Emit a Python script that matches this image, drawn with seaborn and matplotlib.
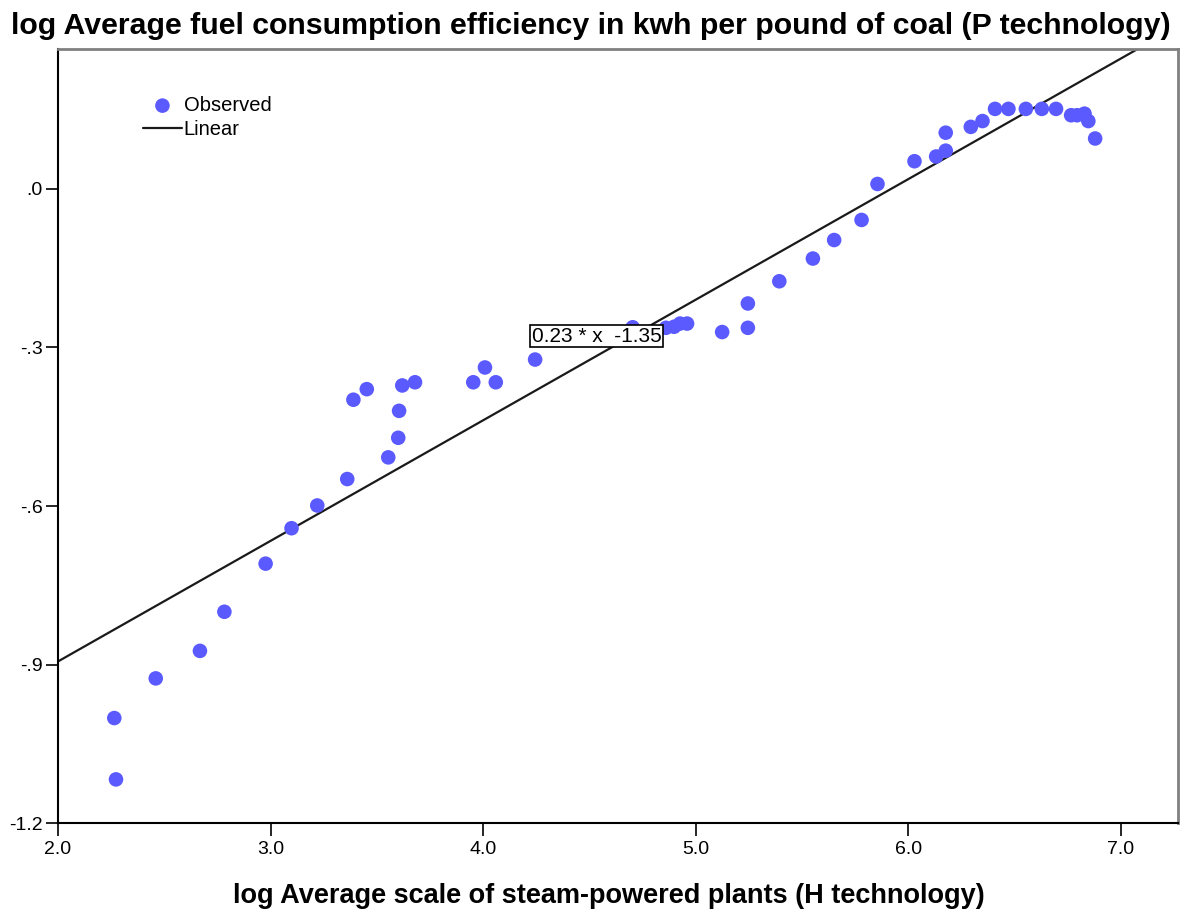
import numpy as np
import pandas as pd
import matplotlib
matplotlib.use('Agg')
import matplotlib.pyplot as plt
import seaborn as sns

sns.set_theme(style="white")
plt.rcParams['font.family'] = ['Liberation Sans', 'DejaVu Sans']
plt.rcParams['text.color'] = 'black'

# log scale of steam-powered plants (H technology)
log_scale = [2.265, 2.273, 2.460, 2.668, 2.783, 2.977, 3.099, 3.220, 3.361, 3.390,
             3.453, 3.554, 3.601, 3.605, 3.620, 3.680, 3.954, 4.009, 4.060, 4.245,
             4.704, 4.861, 4.899, 4.927, 4.960, 5.125, 5.246, 5.246, 5.394, 5.552,
             5.652, 5.781, 5.856, 6.030, 6.132, 6.177, 6.177, 6.295, 6.350, 6.409,
             6.472, 6.554, 6.629, 6.696, 6.767, 6.795, 6.830, 6.848, 6.880]
# log fuel efficiency, kwh per pound of coal (P technology)
log_eff = [-1.001, -1.117, -0.926, -0.874, -0.800, -0.709, -0.642, -0.599, -0.549, -0.399,
           -0.379, -0.508, -0.471, -0.420, -0.372, -0.366, -0.366, -0.338, -0.366, -0.323,
           -0.262, -0.263, -0.261, -0.255, -0.255, -0.271, -0.217, -0.263, -0.175, -0.132,
           -0.097, -0.059, 0.009, 0.052, 0.061, 0.072, 0.106, 0.117, 0.128, 0.151,
           0.151, 0.151, 0.151, 0.151, 0.139, 0.139, 0.142, 0.128, 0.095]

slope = 0.228
intercept = -1.35
fit_label = "0.23 * x  -1.35"

x_lim = (2.0, 7.27)
y_lim = (-1.2, 0.264)
x_ticks = [2.0, 3.0, 4.0, 5.0, 6.0, 7.0]
x_tick_labels = ["2.0", "3.0", "4.0", "5.0", "6.0", "7.0"]
y_ticks = [-1.2, -0.9, -0.6, -0.3, 0.0]
y_tick_labels = ["-1.2", "-.9", "-.6", "-.3", ".0"]

df = pd.DataFrame({'H': log_scale, 'P': log_eff})
fit_x = np.array(x_lim)
fit_df = pd.DataFrame({'H': fit_x, 'P': slope * fit_x + intercept})

fig = plt.figure(figsize=(11.83, 9.10), dpi=100)
ax = fig.add_axes([0.049, 0.0953, 0.9468, 0.8507])

sns.lineplot(data=fit_df, x='H', y='P', color='#1a1a1a', linewidth=1.6,
             label='Linear', ax=ax, zorder=2)
sns.scatterplot(data=df, x='H', y='P', color='#5a5aff', s=110, edgecolor='none',
                label='Observed', ax=ax, zorder=3)

ax.set_xlim(*x_lim)
ax.set_ylim(*y_lim)
ax.set_xticks(x_ticks)
ax.set_xticklabels(x_tick_labels)
ax.set_yticks(y_ticks)
ax.set_yticklabels(y_tick_labels)
ax.tick_params(axis='both', direction='out', length=9, width=1.2, color='black',
               labelsize=14, labelcolor='black', bottom=True, left=True)
ax.tick_params(axis='y', pad=2)

for side in ['left', 'bottom']:
    ax.spines[side].set_color('black')
    ax.spines[side].set_linewidth(1.5)
for side in ['top', 'right']:
    ax.spines[side].set_color('#808080')
    ax.spines[side].set_linewidth(2)

ax.set_xlabel('log Average scale of steam-powered plants (H technology)',
              fontsize=19.5, fontweight='bold', color='black')
ax.xaxis.set_label_coords(0.492, -0.077)
ax.set_ylabel('')
fig.suptitle('log Average fuel consumption efficiency in kwh per pound of coal (P technology)',
             fontsize=21.8, fontweight='bold', x=0.499, y=0.987, va='top', color='black')

ax.text(4.536, -0.279, fit_label, fontsize=15, ha='center', va='center',
        bbox=dict(boxstyle='square,pad=0.08', facecolor='white', edgecolor='black',
                  linewidth=1.2), zorder=4)

handles, labels = ax.get_legend_handles_labels()
order = [labels.index('Observed'), labels.index('Linear')]
ax.legend([handles[i] for i in order], [labels[i] for i in order],
          loc='upper left', bbox_to_anchor=(0.069, 0.95), frameon=False,
          fontsize=14.5, handlelength=1.9, handletextpad=0.1, labelspacing=0.25,
          borderaxespad=0)

plt.savefig('out.png', dpi=100)
